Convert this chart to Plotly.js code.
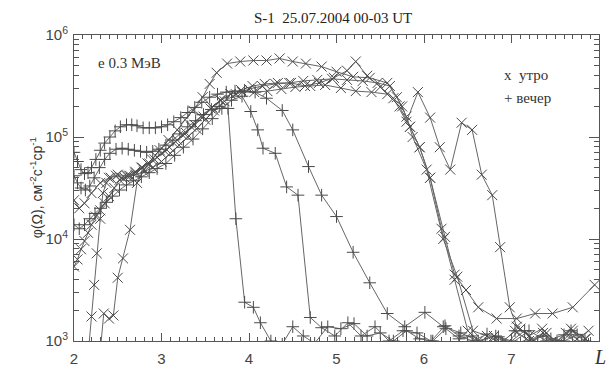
<!DOCTYPE html>
<html>
<head>
<meta charset="utf-8">
<script src="https://cdn.plot.ly/plotly-3.0.1.min.js"></script>
<style>html,body{margin:0;padding:0;background:#fff;}</style>
</head>
<body>
<div id="chart" style="width:609px;height:367px;"></div>
<script>
// ---- data ----
const xTickVals = [2, 3, 4, 5, 6, 7];
const xTickText = ["2", "3", "4", "5", "6", "7"];
const yTickVals = [1e3, 1e4, 1e5, 1e6];
const yTickText = ["10<sup>3</sup>", "10<sup>4</sup>", "10<sup>5</sup>", "10<sup>6</sup>"];

// morning ("x" markers)
const m1L = [2.3, 2.34, 2.4, 2.45, 2.5, 2.56, 2.64, 2.72, 2.8, 2.89, 2.98, 3.08, 3.18, 3.27, 3.36, 3.47, 3.55, 3.63, 3.75, 3.9, 4.05, 4.2, 4.35, 4.5, 4.65, 4.83, 5.0, 5.19, 5.38, 5.58, 5.69, 5.8, 5.87, 6.03, 6.22, 6.38, 6.56, 6.72, 6.88, 7.04, 7.2, 7.36, 7.52, 7.68, 7.84];
const m1V = [790, 1860, 1660, 1780, 4170, 6460, 12300, 35500, 47900, 60300, 74100, 93300, 117500, 147900, 182000, 245500, 331100, 426600, 524800, 549500, 562300, 562300, 588800, 549500, 524800, 489800, 436500, 389000, 380200, 338800, 245500, 158500, 100000, 47900, 10000, 4270, 1260, 1120, 950, 1260, 1000, 1200, 930, 1320, 1050];

const m2L = [2.0, 2.04, 2.08, 2.12, 2.16, 2.2, 2.25, 2.3, 2.35, 2.4, 2.46, 2.52, 2.58, 2.64, 2.7, 2.77, 2.84, 2.92, 3.0, 3.09, 3.18, 3.28, 3.38, 3.48, 3.58, 3.68, 3.79, 3.91, 4.04, 4.18, 4.33, 4.48, 4.64, 4.8, 4.97, 5.12, 5.22, 5.35, 5.5, 5.65, 5.8, 5.93, 6.07, 6.18, 6.3, 6.43, 6.55, 6.66, 6.78, 6.87, 6.98, 7.06, 7.2, 7.35, 7.5, 7.62, 7.75, 7.88];
const m2V = [5370, 6310, 7940, 9550, 11500, 13800, 16600, 19100, 22400, 26300, 31600, 38000, 39800, 41700, 45700, 50100, 55000, 60300, 69200, 79400, 93300, 109600, 131800, 158500, 195000, 229100, 263000, 288400, 316200, 331100, 338800, 338800, 316200, 338800, 380200, 446700, 549500, 398100, 309000, 239900, 141300, 275400, 154900, 79400, 47900, 138000, 117500, 42700, 26900, 8320, 2140, 1380, 1120, 1320, 950, 1200, 1050, 1260];

const m3L = [2.13, 2.17, 2.2, 2.23, 2.26, 2.3, 2.33, 2.37, 2.42, 2.48, 2.55, 2.62, 2.7, 2.78, 2.86, 2.95, 3.04, 3.14, 3.24, 3.34, 3.45, 3.56, 3.67, 3.79, 3.92, 4.06, 4.21, 4.37, 4.53, 4.7, 4.87, 5.05, 5.22, 5.4, 5.58, 5.72, 5.84, 5.95, 6.07, 6.24, 6.35, 6.48, 6.62, 6.83, 7.06, 7.27, 7.47, 7.7, 7.95];
const m3V = [710, 890, 1740, 3550, 7240, 15800, 28200, 35500, 39800, 41700, 39800, 41700, 44700, 50100, 55000, 63100, 72400, 87100, 104700, 125900, 158500, 190500, 229100, 263000, 275400, 275400, 281800, 295100, 309000, 316200, 323600, 302000, 281800, 275400, 263000, 199500, 125900, 79400, 39800, 10500, 4470, 3160, 2140, 1660, 1660, 1860, 1860, 2140, 3550];

const m4L = [2.0, 2.06, 2.12, 2.2, 2.3, 2.4, 2.5, 2.6, 2.7, 2.8, 2.9, 3.0, 3.1, 3.2, 3.3, 3.4, 3.5, 3.6, 3.72, 3.85, 4.0, 4.15, 4.3, 4.46, 4.62, 4.78, 4.95, 5.12, 5.3, 5.47, 5.61, 5.75, 5.84, 5.95, 6.07, 6.2, 6.35, 6.5, 6.62, 6.8, 6.95, 7.1, 7.25, 7.4, 7.55, 7.7, 7.85];
const m4V = [24000, 20000, 22400, 28200, 35500, 39800, 42700, 41700, 42700, 45700, 50100, 57500, 69200, 83200, 100000, 120200, 147900, 182000, 223900, 263000, 295100, 316200, 331100, 338800, 354800, 363100, 371500, 363100, 354800, 338800, 316200, 199500, 125900, 79400, 39800, 12600, 3980, 1260, 1000, 1120, 950, 1320, 1000, 1200, 930, 1260, 1050];

// evening ("+" markers)
const e1L = [2.0, 2.04, 2.08, 2.12, 2.16, 2.2, 2.25, 2.3, 2.35, 2.41, 2.47, 2.53, 2.6, 2.66, 2.72, 2.79, 2.86, 2.93, 3.0, 3.07, 3.14, 3.22, 3.3, 3.38, 3.46, 3.55, 3.64, 3.74, 3.84, 3.95, 4.07, 4.2, 4.38, 4.5, 4.68, 4.83, 5.0, 5.19, 5.38, 5.58, 5.78, 6.01, 6.22, 6.42, 6.62, 6.82, 7.0, 7.2, 7.4, 7.6, 7.8];
const e1V = [70800, 57500, 47900, 43700, 44700, 50100, 60300, 74100, 87100, 100000, 114800, 125900, 131800, 131800, 128800, 123000, 123000, 123000, 125900, 131800, 141300, 154900, 173800, 195000, 218800, 245500, 263000, 275400, 281800, 281800, 275400, 239900, 182000, 117500, 51300, 26900, 16600, 7410, 3720, 1860, 1380, 1910, 1380, 1200, 1000, 1120, 950, 1260, 1000, 1150, 930];

const e2L = [2.0, 2.04, 2.08, 2.13, 2.18, 2.23, 2.29, 2.35, 2.41, 2.48, 2.55, 2.62, 2.69, 2.76, 2.83, 2.9, 2.97, 3.05, 3.13, 3.21, 3.3, 3.39, 3.48, 3.57, 3.66, 3.76, 3.85, 3.95, 4.05, 4.13, 4.25, 4.38, 4.5, 4.62, 4.75, 4.9, 5.05, 5.2, 5.35, 5.5, 5.65, 5.8, 5.95, 6.1, 6.25, 6.4, 6.55, 6.7, 6.85, 7.0, 7.15, 7.3, 7.45, 7.6, 7.75, 7.88];
const e2V = [41700, 35500, 31600, 30200, 33100, 39800, 50100, 60300, 69200, 75900, 77600, 75900, 74100, 72400, 70800, 72400, 75900, 83200, 93300, 107200, 125900, 144500, 166000, 186200, 199500, 190500, 15800, 2400, 2140, 1510, 1000, 930, 1380, 1120, 950, 1380, 1320, 1480, 1120, 1200, 1000, 1260, 1050, 1000, 1320, 1050, 1120, 950, 1100, 1000, 1260, 950, 1050, 1000, 1150, 930];

const e3L = [2.0, 2.06, 2.12, 2.18, 2.24, 2.3, 2.37, 2.44, 2.52, 2.6, 2.68, 2.77, 2.86, 2.95, 3.05, 3.15, 3.25, 3.36, 3.47, 3.58, 3.69, 3.8, 3.92, 4.02, 4.1, 4.16, 4.3, 4.43, 4.56, 4.7, 4.83, 4.98, 5.13, 5.28, 5.44, 5.6, 5.76, 5.92, 6.08, 6.24, 6.4, 6.56, 6.72, 6.88, 7.04, 7.2, 7.36, 7.52, 7.68, 7.84];
const e3V = [13800, 12600, 13800, 15800, 17800, 20000, 22900, 26300, 30200, 33900, 37200, 40700, 44700, 49000, 55000, 66100, 79400, 95500, 120200, 151400, 190500, 229100, 251200, 177800, 117500, 77600, 69200, 32400, 26900, 1700, 1350, 1120, 1510, 1120, 1380, 1000, 1260, 1200, 1000, 1410, 1120, 1000, 1170, 950, 1260, 1000, 1120, 1000, 1260, 1000];

const morning = [[m1L, m1V], [m2L, m2V], [m3L, m3V], [m4L, m4V]];
const evening = [[e1L, e1V], [e2L, e2V], [e3L, e3V]];

// ---- build ----
const traces = [];
function addSeries(pair, symbol, size) {
  traces.push({
    x: pair[0], y: pair[1], type: 'scatter', mode: 'lines+markers',
    showlegend: false, hoverinfo: 'skip',
    line: {color: '#666', width: 1},
    marker: {symbol: symbol, size: size, color: '#4a4a4a', line: {color: '#4a4a4a', width: 1}}
  });
}
morning.forEach(p => addSeries(p, 'x-thin', 10));
evening.forEach(p => addSeries(p, 'cross-thin', 9));

const minorY = [];
[1e3, 1e4, 1e5].forEach(d => { for (let k = 2; k <= 9; k++) minorY.push(k * d); });

const axisCol = '#555';
const tickFont = {family: 'Liberation Sans, Arial, sans-serif', size: 15, color: '#444'};
const serif = 'Liberation Serif, Times New Roman, serif';

const layout = {
  width: 609, height: 367,
  margin: {l: 74, r: 10, t: 35, b: 26},
  paper_bgcolor: '#fff', plot_bgcolor: '#fff',
  title: {text: 'S-1  25.07.2004 00-03 UT', font: {family: serif, size: 15, color: '#222'},
          x: 0.547, xanchor: 'center', y: 0.951, yanchor: 'middle', yref: 'container'},
  xaxis: {
    range: [2, 8], tickmode: 'array', tickvals: xTickVals, ticktext: xTickText,
    ticks: 'inside', ticklen: 8, tickcolor: axisCol, tickwidth: 1,
    showline: true, linecolor: axisCol, linewidth: 1, mirror: 'ticks',
    showgrid: false, zeroline: false, tickfont: tickFont, ticklabelstandoff: 4,
    minor: {tick0: 2, dtick: 0.1, ticks: 'inside', ticklen: 4, tickcolor: axisCol, showgrid: false}
  },
  yaxis: {
    type: 'log', range: [3, 6], tickmode: 'array', tickvals: yTickVals, ticktext: yTickText,
    ticks: 'inside', ticklen: 10, tickcolor: axisCol, tickwidth: 1,
    showline: true, linecolor: axisCol, linewidth: 1, mirror: 'ticks',
    showgrid: false, zeroline: false, tickfont: tickFont, ticklabelstandoff: 2,
    minor: {tickmode: 'array', tickvals: minorY, ticks: 'inside', ticklen: 5, tickcolor: axisCol, showgrid: false}
  },
  annotations: [
    {text: 'e 0.3 МэВ', xref: 'paper', yref: 'paper', x: 0.042, y: 0.908, xanchor: 'left', yanchor: 'middle',
     showarrow: false, font: {family: serif, size: 15, color: '#333'}},
    {text: 'x  утро', xref: 'paper', yref: 'paper', x: 0.815, y: 0.869, xanchor: 'left', yanchor: 'middle',
     showarrow: false, font: {family: serif, size: 15, color: '#333'}},
    {text: '+ вечер', xref: 'paper', yref: 'paper', x: 0.815, y: 0.794, xanchor: 'left', yanchor: 'middle',
     showarrow: false, font: {family: serif, size: 15, color: '#333'}},
    {text: '<i>L</i>', xref: 'paper', yref: 'paper', x: 1.002, y: -0.052, xanchor: 'center', yanchor: 'middle',
     showarrow: false, font: {family: serif, size: 20, color: '#333'}},
    {text: 'φ(Ω), см<sup>-2</sup>с<sup>-1</sup>ср<sup>-1</sup>', xref: 'paper', yref: 'paper', x: -0.072, y: 0.5,
     xanchor: 'center', yanchor: 'middle', textangle: -90, showarrow: false,
     font: {family: 'Liberation Sans, Arial, sans-serif', size: 14, color: '#333'}}
  ]
};

Plotly.newPlot('chart', traces, layout, {staticPlot: true, displayModeBar: false});
</script>
</body>
</html>
